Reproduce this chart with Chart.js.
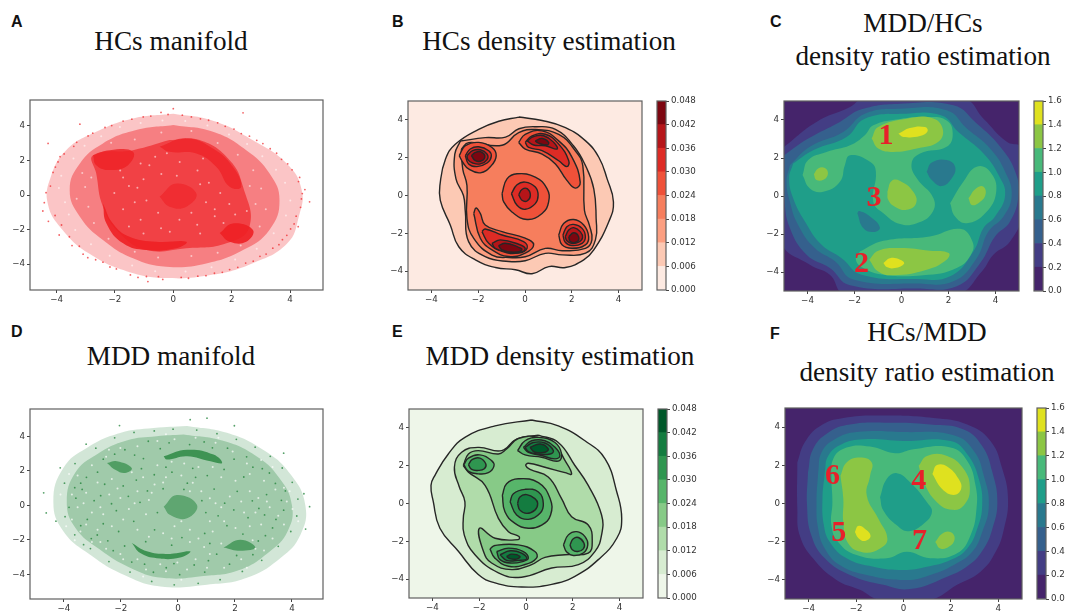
<!DOCTYPE html>
<html>
<head>
<meta charset="utf-8">
<title>Manifold density panels</title>
<script src="https://cdn.jsdelivr.net/npm/chart.js@4"></script>
<style>
  html, body { margin: 0; padding: 0; background: #fff; }
  body { position: relative; width: 1065px; height: 611px; overflow: hidden; }
  canvas { position: absolute; filter: blur(0.4px); }
  .title { position: absolute; transform: translateX(-50%); white-space: nowrap; font: 27.2px/32px "Liberation Serif", serif; color: #111; }
  .tag { position: absolute; font: bold 16px/18px "Liberation Sans", sans-serif; color: #111; }
</style>
</head>
<body>
<div class="tag" style="left:11px;top:13px">A</div>
<div class="tag" style="left:392px;top:13px">B</div>
<div class="tag" style="left:770px;top:13px">C</div>
<div class="tag" style="left:11px;top:323px">D</div>
<div class="tag" style="left:392px;top:323px">E</div>
<div class="tag" style="left:770px;top:325px">F</div>
<div class="title" style="left:171px;top:25px">HCs manifold</div>
<div class="title" style="left:549px;top:25px">HCs density estimation</div>
<div class="title" style="left:923px;top:7px">MDD/HCs</div>
<div class="title" style="left:923px;top:40px">density ratio estimation</div>
<div class="title" style="left:171px;top:340px">MDD manifold</div>
<div class="title" style="left:560px;top:340px">MDD density estimation</div>
<div class="title" style="left:927px;top:316px">HCs/MDD</div>
<div class="title" style="left:927px;top:356px">density ratio estimation</div>

<script>
const axisTicks = [-4, -2, 0, 2, 4];
const densityTicks = [0, 0.006, 0.012, 0.018, 0.024, 0.03, 0.036, 0.042, 0.048];
const ratioTicks = [0, 0.2, 0.4, 0.6, 0.8, 1.0, 1.2, 1.4, 1.6];

const redColors = ['#fdeae2', '#fcc9b4', '#fc9f81', '#f67e5d', '#ef5139', '#dd2b25', '#b51519', '#7d0610'];
const greenColors = ['#eef6e9', '#d7ecd1', '#b0dcaa', '#87ca87', '#57b56a', '#2f9650', '#147c40', '#00582a'];
const viridisColors = ['#45246b', '#433d84', '#35608d', '#29798e', '#1f9e89', '#48b97a', '#8cc644', '#dfe11f'];

// A: the cloud is far too dense to list, so its body is kept as envelopes
// and the dots are only a hand read sample of the grain, not every point
const hcEnvelope = [[0,4.7],[1.36,4.3],[2.7,3.2],[3.9,1.8],[4.4,.3],[4.3,-1.25],[3.9,-2.8],[2.7,-3.95],[1.36,-4.6],[-.24,-4.8],[-1.6,-4.4],[-2.87,-3.4],[-3.8,-2],[-4.3,-.5],[-4.2,1.05],[-3.67,2.6],[-2.64,3.66],[-1.38,4.43]];
const hcBody = [[0,4.05],[1.36,3.66],[2.5,2.6],[3.3,1.25],[3.64,-.3],[3.3,-2],[2.39,-3.18],[1.13,-3.95],[-.24,-4.14],[-1.38,-3.66],[-2.41,-2.6],[-3.2,-1.25],[-3.55,.3],[-3.2,1.83],[-2.41,2.99],[-1.27,3.76]];
const hcCore = [[-.13,3.18],[.9,3.18],[1.93,2.02],[2.39,.48],[2.61,-1.83],[1.82,-2.79],[.45,-3.08],[-.92,-3.18],[-1.84,-2.2],[-2.41,-.67],[-2.64,1.25],[-2.75,2.31],[-1.38,2.6]];
const hcBlobTL = [[-2.75,2.31],[-2.18,2.6],[-1.38,2.5],[-1.55,1.73],[-2.18,1.45],[-2.64,1.73]];
const hcArcTop = [[-.47,2.79],[.45,3.28],[1.36,2.7],[2.04,1.64],[2.33,.48],[1.93,.48],[1.47,1.64],[.79,2.41],[-.13,2.5]];
const hcArcBottom = [[-2.41,-.48],[-2.07,-1.64],[-1.5,-2.41],[-.58,-2.7],[.45,-2.7],[.1,-3.08],[-.92,-3.18],[-1.72,-2.79],[-2.29,-1.64]];
const hcBlobBR = [[1.59,-2.2],[2.04,-1.64],[2.73,-2.02],[2.5,-2.7],[1.93,-2.7]];
const hcBlobMid = [[-.47,-.1],[.1,.67],[.79,.1],[.45,-.67],[-.13,-.67]];
const hcPoints = [[-4.29,2.99],[-3.2,4.1],[2.39,4.76],[4.67,-.39],[-.87,-5],[0,5],[4.28,-1.83],[-4.42,-.44],[-4.12,1.31],[-3.95,1.92],[-4.21,.52],[-4.05,-1.18],[-3.83,-1.73],[-3.56,-2.41],[-3.22,-2.96],[-2.93,-3.62],[-2.41,-3.88],[-1.95,-4.27],[-1.47,-4.62],[-.92,-4.71],[-.36,-4.88],[.27,-4.76],[.84,-4.69],[1.41,-4.52],[1.93,-4.31],[2.48,-3.93],[2.97,-3.54],[3.41,-3.07],[3.74,-2.58],[4.02,-1.96],[4.21,-1.22],[4.36,-.71],[4.42,.09],[4.29,.78],[4.07,1.46],[3.71,2.07],[3.32,2.68],[2.86,3.17],[2.33,3.56],[1.78,3.98],[1.21,4.33],[.62,4.52],[-.18,4.66],[-.77,4.57],[-1.42,4.39],[-2.11,4.02],[-2.76,3.58],[-3.31,3.05],[-3.74,2.38],[-4.36,.14],[-4.47,-.92],[-4.28,-1.52],[-3.91,-2.31],[-3.47,-2.92],[-3.09,-3.42],[-2.66,-3.74],[-2.17,-4.16],[-1.21,-4.76],[-.51,-4.72],[.52,-4.81],[1.12,-4.66],[1.68,-4.47],[2.21,-4.18],[2.74,-3.82],[3.18,-3.41],[3.62,-2.87],[3.89,-2.33],[4.14,-1.67],[4.39,-.22],[4.51,.32],[4.33,1.02],[3.92,1.81],[3.54,2.42],[3.07,2.98],[2.61,3.41],[2.08,3.82],[1.52,4.18],[.93,4.41],[.31,4.62],[-.42,4.78],[-1.03,4.52],[-1.72,4.28],[-2.34,3.91],[-2.92,3.42],[-3.41,2.82],[-3.88,2.22],[-4.04,1.62]];
const hcWhite = [[-3.92,.41],[-3.71,-.42],[-3.84,1.12],[-3.42,2.11],[-3.04,2.86],[-2.47,3.41],[-1.83,3.94],[-1.12,4.17],[-.37,4.32],[.41,4.28],[1.17,4.02],[1.91,3.51],[2.53,2.96],[3.05,2.24],[3.52,1.46],[3.83,.71],[4.01,-.31],[3.86,-1.18],[3.44,-2.21],[2.86,-3.11],[2.12,-3.72],[1.31,-4.17],[.42,-4.42],[-.62,-4.41],[-1.41,-4.08],[-2.18,-3.51],[-2.82,-2.84],[-3.36,-2.02],[-3.58,-1.12],[-3.31,-.21],[-3.02,.47],[-3.12,1.28],[-2.81,1.02],[-2.91,-.67],[-2.72,-1.62],[-2.22,-2.52],[-1.32,-3.28],[-.52,-3.61],[.62,-3.52],[1.52,-3.34],[2.31,-2.91],[2.96,-1.82],[3.17,-.82],[3.01,.38],[2.74,1.44],[2.21,2.33],[1.52,3.02],[.62,3.71],[-.41,3.62],[-1.32,3.21],[-2.13,3.03],[-1.72,1.02],[-1.23,.42],[-.82,1.72],[-.41,1.22],[.22,1.92],[.83,1.42],[1.22,.72],[1.61,.12],[1.92,-.52],[1.42,-1.22],[.82,-1.72],[.21,-1.42],[-.42,-1.92],[-1.12,-1.42],[-1.72,-.82],[-2.02,.12],[-1.52,.52],[-.92,-.32],[-1.02,.92],[-.62,2.22],[.12,1.12],[.92,.62],[1.12,-.42],[.62,-1.02],[-.52,-1.02],[-1.32,-.42],[-1.82,1.42],[-1.12,1.82],[-.22,2.42],[1.02,2.12],[1.42,-.82],[2.12,-1.12],[1.72,-1.62],[.92,-2.22],[-.12,-2.12],[-1.02,-2.22],[-1.52,-1.82],[2.62,.52],[2.82,-.52],[2.52,-.92]];

// D
const mddEnvelope = [[.32,4.6],[1.72,4.2],[3,3.2],[3.95,1.8],[4.47,0],[4.3,-1.7],[3.6,-3.05],[2.42,-4.2],[1.02,-4.6],[-.62,-4.7],[-1.9,-4.02],[-3.08,-2.86],[-4.02,-1.5],[-4.37,.21],[-4.02,2.16],[-3.2,3.32],[-2.03,4.19],[-.85,4.48]];
const mddBody = [[.2,4.1],[1.55,3.75],[2.7,2.9],[3.55,1.6],[4,0],[3.85,-1.5],[3.2,-2.7],[2.15,-3.75],[.9,-4.1],[-.55,-4.2],[-1.7,-3.6],[-2.75,-2.55],[-3.6,-1.3],[-3.9,.2],[-3.6,1.9],[-2.85,2.95],[-1.8,3.75],[-.75,4]];
const mddBlobTL = [[-2.49,2.45],[-2.14,2.55],[-1.62,2.16],[-1.85,1.87],[-2.2,2.06]];
const mddArcTop = [[-.5,2.84],[.32,3.22],[1.25,2.94],[1.55,2.45],[1.14,2.55],[.32,2.84],[-.39,2.65]];
const mddBlobMid = [[-.5,-.08],[-.04,.6],[.67,.02],[.32,-.75],[-.27,-.56]];
const mddArcBottom = [[-1.62,-2.19],[-1.09,-2.67],[-.39,-2.82],[.43,-2.67],[.08,-3.03],[-.74,-3.07],[-1.32,-2.77]];
const mddBlobBR = [[1.6,-2.45],[2.19,-2],[2.72,-2.45],[2.19,-2.64]];
const mddPoints = [[-4.71,.72],[-4.62,-.44],[-4.13,2.17],[-2.05,4.62],[1.02,5.05],[.43,4.96],[1.98,4.61],[4.62,-.08],[4.42,.67],[4.48,-1.38],[3.71,3.02],[-3.22,3.54],[-4.28,-.92],[-3.98,1.28],[-3.61,2.42],[-2.88,3.31],[-2.22,3.91],[-1.54,4.22],[-.83,4.31],[-.17,4.41],[.66,4.36],[1.37,4.15],[2.05,3.82],[2.71,3.37],[3.24,2.84],[3.66,2.16],[4.01,1.33],[4.21,.36],[4.17,-.62],[3.96,-1.52],[3.52,-2.38],[2.94,-3.19],[2.26,-3.83],[1.48,-4.31],[.71,-4.52],[-.13,-4.61],[-.92,-4.41],[-1.68,-3.87],[-2.42,-3.26],[-3.07,-2.51],[-3.62,-1.71],[-3.96,-.66],[-3.58,.41],[-3.21,1.62],[-2.62,2.67],[-1.86,3.22],[-1.04,3.71],[-.31,3.62],[.92,3.67],[1.74,3.31],[2.41,2.81],[2.96,2.12],[3.42,1.27],[3.63,.29],[3.44,-.82],[3.07,-1.76],[2.63,-2.86],[1.81,-3.41],[.94,-3.87],[.06,-4.02],[-.86,-3.88],[-1.62,-3.29],[-2.27,-2.63],[-2.83,-1.72],[-3.18,-.82],[-2.94,.27],[-2.57,1.22],[-1.46,1.46],[-.83,1.77],[-.21,1.92],[.62,1.62],[1.27,.94],[2.08,.81],[2.61,.26],[2.46,-.72],[1.72,-1.18],[.94,-1.63],[.14,-1.87],[-.82,-1.42],[-1.55,-.93],[-2.16,-.31],[-1.74,.52],[-1.07,.83],[.98,-.42],[1.64,.12],[-2.08,-1.52],[-2.46,-2.06],[-.41,-3.62],[.57,-3.46],[1.36,-2.83],[3.04,-.56],[3.11,.62],[-3.41,-1.18],[-3.62,1.02],[-2.22,2.96],[1.21,3.33],[-1.21,2.71],[2.31,1.64],[1.62,2.08],[.33,1.28],[-.52,.96],[-3.82,-.12],[-3.36,.92],[-2.71,.56],[-2.33,.09],[-1.92,1.12],[-1.33,.17],[-.72,-.42],[.21,.92],[.84,.27],[1.41,-.61],[1.96,-.27],[2.84,-.18],[3.32,-1.31],[2.28,-1.67],[1.12,-2.21],[-.22,-2.31],[-1.13,-2.11],[-1.87,-2.36],[-2.62,-1.07],[-3.04,-1.93],[-3.31,-2.28],[-1.17,-3.41],[-.14,-3.38],[1.07,-3.21],[2.06,-2.91],[2.82,-2.07],[3.71,-.28],[3.77,.83],[3.21,1.87],[2.63,2.21],[1.97,2.67],[.41,3.52],[-.62,3.28],[-1.52,2.91],[-2.82,1.92],[-3.41,1.28],[-.42,2.21],[.52,2.14],[1.03,1.72],[-1.28,2.12]];
const mddWhite = [[-3.72,.62],[-3.31,.12],[-3.02,-.42],[-2.72,-.12],[-2.41,.62],[-2.12,.97],[-1.72,-.22],[-1.42,.82],[-1.02,.31],[-.82,1.21],[-.42,1.62],[.12,1.72],[.52,1.31],[.82,.82],[1.12,.41],[1.52,-.12],[1.82,.51],[2.22,.22],[2.52,.82],[2.82,.42],[3.22,-.11],[3.52,-.61],[3.82,.22],[3.42,.91],[3.02,1.42],[2.52,1.82],[2.02,1.42],[1.52,1.62],[1.22,2.22],[.72,2.22],[.22,2.42],[-.22,2.52],[-.72,2.32],[-1.22,1.62],[-1.62,1.92],[-2.32,1.52],[-2.82,1.32],[-3.22,.72],[-3.52,1.72],[-3.02,2.32],[-2.52,2.82],[-2.02,3.32],[-1.42,3.42],[-.72,3.72],[-.12,3.82],[.62,3.92],[1.32,3.62],[1.92,3.12],[2.42,2.42],[2.92,2.62],[3.32,2.22],[3.72,1.02],[4.02,-.22],[3.72,-1.12],[3.32,-1.92],[2.72,-2.52],[2.22,-3.12],[1.62,-3.62],[1.02,-3.62],[.32,-3.72],[-.42,-3.82],[-1.12,-3.72],[-1.92,-3.12],[-2.52,-2.52],[-3.02,-2.12],[-3.42,-1.52],[-3.72,-.82],[-3.22,-1.12],[-2.82,-1.42],[-2.32,-1.22],[-1.92,-.82],[-1.42,-1.42],[-1.02,-1.82],[-.52,-1.62],[-.12,-1.22],[.42,-1.42],[.72,-1.92],[1.22,-1.52],[1.62,-.92],[2.02,-1.32],[2.52,-1.22],[2.92,-1.12],[2.62,-2.02],[1.52,-2.22],[.92,-2.42],[.42,-2.12],[-.22,-1.92],[1.12,-2.82],[.62,-3.12],[-.02,-3.32],[-.62,-3.42],[-1.42,-3.12],[-2.02,-2.82],[-2.72,-2.12],[-1.52,.12],[-2.02,.42],[-2.62,-.52],[-3.52,-.12],[.12,-.92],[1.12,-.92],[1.32,.12],[2.32,-.42],[2.72,-.42],[3.12,.22],[-1.12,-.52],[-.92,.72],[-.52,1.32],[.42,.82],[-3.92,-1.22],[-3.62,-2.02],[-2.42,3.22],[3.02,-2.62],[2.42,-3.62],[.12,-4.32],[-1.22,-4.12],[1.42,3.92],[-.42,4.12],[-3.82,1.82],[-4.12,.62],[4.22,-.92],[3.92,.82]];

// B
const hcLevel1 = [[-.26,4.15],[.73,3.97],[1.73,3.59],[2.59,2.89],[3.16,2.01],[3.51,.88],[3.78,-.34],[3.58,-1.39],[2.94,-2.88],[2.51,-3.41],[1.73,-3.81],[1.02,-3.76],[.3,-4.14],[-.41,-3.93],[-1.26,-3.81],[-2.12,-3.41],[-2.83,-2.71],[-3.19,-1.57],[-3.62,-.26],[-3.62,.7],[-3.4,1.92],[-2.98,2.71],[-1.98,3.5],[-1.12,3.93]];
const hcLevel2 = [[-2.76,2.88],[-1.7,3.06],[-.83,3.09],[-.26,3.53],[.45,3.64],[1.3,3.5],[2.08,2.62],[2.59,1.57],[2.94,.35],[3.04,-1.22],[3.01,-2.35],[2.59,-3.05],[1.59,-3.14],[.87,-3.06],[.01,-3.45],[-.69,-3.49],[-1.7,-3.24],[-2.41,-2.44],[-2.55,-.87],[-2.63,0],[-2.95,.88],[-3,2.19]];
const hcLevel3 = [[-2.72,2.45],[-2.41,2.8],[-.98,2.66],[-.27,3.33],[.45,3.49],[1.44,3.23],[2.15,2.37],[2.47,1.58],[2.54,-.78],[2.75,-1.57],[2.86,-2.35],[2.58,-2.8],[1.59,-2.92],[.87,-2.8],[.01,-3.24],[-.69,-3.28],[-1.41,-3.15],[-2.19,-2.27],[-2.48,-1.22],[-2.48,.52],[-2.66,1.4]];
const hc4a = [[-2.81,2.11],[-2.55,2.63],[-1.98,2.81],[-1.41,2.54],[-1.23,2.11],[-1.44,1.58],[-1.91,1.2],[-2.41,1.41],[-2.66,1.76]];
const hc4b = [[-.27,2.81],[.01,3.24],[.73,3.42],[1.44,2.89],[2.01,2.02],[2.36,.71],[2.15,.39],[1.79,.8],[1.3,1.67],[.73,2.19],[.01,2.46]];
const hc4c = [[-.98,.1],[-.77,.88],[-.34,1.15],[.44,.97],[.94,.36],[1.01,-.34],[.73,-.95],[.09,-1.27],[-.56,-.87],[-.91,-.34]];
const hc4d = [[1.44,-2.09],[1.65,-1.48],[2.08,-1.27],[2.51,-1.56],[2.72,-2.18],[2.58,-2.61],[2.01,-2.79],[1.58,-2.61]];
const hc4e = [[-2.19,-.95],[-2.09,-.66],[-1.91,-.95],[-1.7,-1.56],[-.98,-1.91],[.01,-2.26],[.37,-2.61],[.01,-3.05],[-.7,-3.23],[-1.41,-2.88],[-1.91,-2.26]];
const hc5a = [[-2.55,2.11],[-2.34,2.46],[-1.98,2.58],[-1.55,2.37],[-1.44,2.07],[-1.62,1.72],[-2.05,1.53],[-2.41,1.67]];
const hc5b = [[.01,2.81],[.3,3.16],[.87,3.24],[1.44,2.72],[1.87,1.84],[1.79,1.53],[1.44,1.84],[.73,2.37],[.16,2.54]];
const hc5c = [[-.58,.1],[-.34,.57],[.01,.71],[.44,.45],[.56,.01],[.44,-.43],[.01,-.73],[-.34,-.52]];
const hc5d = [[1.62,-2.09],[1.79,-1.65],[2.08,-1.53],[2.44,-1.74],[2.58,-2.18],[2.44,-2.53],[2.01,-2.65],[1.72,-2.47]];
const hc5e = [[-1.84,-1.91],[-1.7,-1.77],[-.98,-2.09],[-.06,-2.44],[.09,-2.79],[-.27,-3.05],[-.98,-2.96],[-1.55,-2.53]];
const hc6a = [[-2.48,2.11],[-2.24,2.37],[-1.91,2.42],[-1.62,2.19],[-1.62,1.9],[-1.91,1.67],[-2.24,1.72],[-2.44,1.9]];
const hc6b = [[.09,2.89],[.37,3.12],[.8,3.16],[1.23,2.81],[1.37,2.46],[.87,2.63],[.37,2.67]];
const hc6c = [[-.27,.04],[-.13,.32],[.09,.36],[.23,.01],[.09,-.29],[-.13,-.25]];
const hc6d = [[1.72,-2.18],[1.87,-1.83],[2.08,-1.7],[2.36,-1.91],[2.46,-2.23],[2.29,-2.47],[2.01,-2.54],[1.79,-2.4]];
const hc6e = [[-1.41,-2.53],[-1.05,-2.35],[-.27,-2.58],[.01,-2.82],[-.27,-3.02],[-.84,-2.96],[-1.27,-2.79]];
const hc7a = [[-2.29,2.11],[-2.12,2.28],[-1.91,2.32],[-1.72,2.11],[-1.84,1.84],[-2.12,1.84]];
const hc7b = [[.44,2.89],[.73,3.02],[1.01,2.81],[.94,2.67],[.58,2.77]];
const hc7d = [[1.87,-2.18],[2.08,-1.97],[2.29,-2.18],[2.22,-2.44],[1.94,-2.44]];
const hc7e = [[-1.13,-2.65],[-.84,-2.53],[-.34,-2.7],[-.13,-2.88],[-.48,-3],[-.98,-2.88]];

// E
const mddLevel1 = [[.24,4.42],[1.38,4.11],[2.52,3.32],[3.38,2.36],[3.88,.61],[4.09,-.79],[3.88,-1.84],[3.09,-2.97],[2.09,-3.85],[1.1,-4.28],[-.19,-4.42],[-1.32,-4.2],[-2.04,-3.76],[-2.89,-2.53],[-3.68,-1.31],[-3.96,.09],[-4.06,.96],[-3.89,1.49],[-3.32,2.62],[-2.61,3.5],[-1.32,4.11]];
const mddLevel2 = [[.53,3.62],[1.38,3.23],[2.09,2.01],[2.66,.96],[3.23,-.61],[3.23,-1.66],[2.95,-2.53],[2.24,-3.23],[1.1,-3.41],[-.19,-3.9],[-1.18,-3.67],[-2.18,-2.71],[-2.64,-1.66],[-2.68,-.79],[-2.61,.09],[-2.86,.91],[-3.06,1.92],[-2.75,2.71],[-2.04,2.97],[-1.04,2.8],[-.4,3.41]];
const mddLevel3 = [[-2.68,2.01],[-2.46,2.62],[-2.04,2.8],[-1.18,2.62],[-.83,2.88],[-.33,3.44],[.53,3.5],[1.24,3.06],[1.67,2.27],[1.95,1.57],[1.67,1.63],[.81,1.92],[.1,2.13],[-.01,2.01],[.17,1.8],[.95,1.4],[1.52,.26],[1.95,-.7],[2.66,-1.14],[2.83,-2.01],[2.66,-2.62],[1.67,-2.71],[.81,-2.85],[.24,-3.23],[-.61,-3.5],[-1.47,-3.15],[-1.82,-2.53],[-1.99,-1.31],[-1.32,-1.84],[-.33,-1.91],[-.3,-1.75],[-.75,-1.49],[-1.18,-.79],[-1.75,.96],[-2.46,1.66]];
const mdd4a = [[-2.66,2.05],[-2.46,2.4],[-1.97,2.57],[-1.47,2.27],[-1.37,1.98],[-1.61,1.63],[-2.04,1.57],[-2.46,1.7]];
const mdd4b = [[-.36,2.8],[-.04,3.32],[.53,3.5],[1.24,3.23],[1.52,2.62],[1.38,2.24],[.67,2.45],[-.04,2.57]];
const mdd4c = [[-1.01,.44],[-.83,1.05],[-.33,1.31],[.53,1.1],[1.03,.26],[1.05,-.61],[.67,-1.14],[.1,-1.31],[-.47,-1.05],[-.9,-.44]];
const mdd4d = [[1.6,-2.19],[1.81,-1.66],[2.17,-1.49],[2.52,-1.75],[2.64,-2.19],[2.45,-2.62],[2.02,-2.75],[1.74,-2.57]];
const mdd4e = [[-1.54,-2.4],[-1.33,-2.22],[-.33,-2.19],[.38,-2.54],[.45,-2.89],[-.04,-3.23],[-.75,-3.32],[-1.33,-2.89]];
const mdd5a = [[-2.46,2.05],[-2.29,2.33],[-1.97,2.4],[-1.72,2.1],[-1.78,1.84],[-2.04,1.75],[-2.32,1.8]];
const mdd5b = [[-.11,2.97],[.24,3.32],[.81,3.32],[1.24,2.97],[1.45,2.54],[1.24,2.36],[.67,2.54],[.1,2.71]];
const mdd5c = [[-.68,.09],[-.54,.52],[-.04,.75],[.53,.61],[.74,0],[.6,-.52],[.1,-.84],[-.4,-.61]];
const mdd5d = [[1.88,-2.19],[2.02,-1.87],[2.24,-1.8],[2.48,-2.1],[2.45,-2.4],[2.21,-2.54],[1.98,-2.45]];
const mdd5e = [[-1.25,-2.54],[-.75,-2.36],[-.11,-2.54],[.1,-2.89],[-.11,-3.06],[-.68,-3.15],[-1.11,-2.97]];
const mdd6b = [[-.04,2.97],[.31,3.23],[.81,3.2],[1.17,2.8],[1.03,2.62],[.46,2.62],[.1,2.75]];
const mdd6c = [[-.36,0],[-.26,.35],[.03,.47],[.38,.26],[.5,0],[.38,-.35],[.03,-.52],[-.26,-.35]];
const mdd6e = [[-1.11,-2.71],[-.68,-2.5],[-.19,-2.62],[.03,-2.92],[-.33,-3.01],[-.83,-3.01]];
const mdd7b = [[.17,2.97],[.6,3.15],[.95,2.89],[.81,2.71],[.38,2.71]];
const mdd7e = [[-.83,-2.8],[-.61,-2.68],[-.26,-2.8],[-.4,-2.94],[-.68,-2.92]];

// C
const ratioC1 = [[-4.99,2.59],[-3.62,3.9],[-2.19,4.68],[-1.63,5.12],[2.63,5.12],[3.49,4.07],[4.48,2.85],[5.12,2.5],[5.12,-1],[4.62,-2.39],[3.91,-3.09],[3.42,-3.97],[2.35,-5.15],[-2.41,-5.15],[-3.05,-4.14],[-3.9,-3.62],[-5.11,-2.39],[-5.11,2.5]];
const ratioC2 = [[-4.99,2.15],[-3.97,3.02],[-2.62,3.9],[-1.7,4.56],[-.06,4.86],[2.21,4.77],[3.2,3.81],[4.2,2.59],[4.84,1.28],[4.98,.05],[4.62,-1.34],[3.98,-2.13],[3.35,-3.53],[2.35,-4.75],[.65,-4.87],[-2.19,-4.7],[-3.05,-3.79],[-4.04,-3.09],[-4.75,-1.69],[-4.99,-.12],[-4.99,.93]];
const ratioC3 = [[-4.75,1.62],[-3.9,2.59],[-2.48,3.37],[-1.56,4.33],[-.06,4.59],[1.92,4.51],[2.78,3.55],[3.77,2.5],[4.41,1.28],[4.69,.05],[4.34,-1.08],[3.7,-1.87],[3.2,-3.27],[2.21,-4.49],[.65,-4.61],[-2.05,-4.4],[-2.83,-3.44],[-3.69,-2.74],[-4.4,-1.52],[-4.75,-.3],[-4.89,.75]];
const ratioC4 = [[-4.61,1.71],[-3.76,2.41],[-2.34,3.11],[-1.56,4.07],[.08,4.33],[1.71,4.24],[2.42,3.37],[3.49,2.24],[4.13,1.1],[4.41,.05],[3.98,-1.08],[3.49,-1.69],[3.06,-2.92],[2.07,-4.23],[.65,-4.37],[-1.7,-4.14],[-2.55,-3.27],[-3.4,-2.57],[-4.11,-1.34],[-4.61,-.12],[-4.78,.93]];
const ratioC5a = [[-4.21,1.1],[-3.97,1.89],[-3.19,2.32],[-2.19,2.67],[-1.56,3.2],[-1.2,3.72],[-.21,4.03],[1.07,4.16],[1.92,3.98],[2.18,3.28],[1.92,2.59],[.79,2.24],[.43,1.71],[.65,.93],[1.36,-.12],[1.29,-.91],[.65,-1.43],[-.06,-1.48],[-.77,-.91],[-1.2,-.3],[-1.09,1.28],[-1.34,1.8],[-2.19,2.15],[-2.41,1.62],[-2.62,.75],[-3.33,.23],[-3.9,.4]];
const ratioC5b = [[2.07,-.38],[2.63,.75],[3.2,1.54],[3.77,1.28],[4.03,.23],[3.56,-.91],[2.78,-1.43],[2.28,-1.08]];
const ratioC5c = [[-1.77,-2.92],[-.77,-2.36],[1.21,-2.13],[2.49,-1.73],[2.99,-2.31],[2.99,-3],[2.35,-3.79],[.93,-4.17],[-.77,-4.14],[-1.63,-3.79],[-1.94,-3.35]];
const ratioCLowA = [[1.07,1.28],[1.29,1.76],[1.92,1.89],[2.28,1.54],[2.14,.93],[1.71,.52],[1.29,.84]];
const ratioCLowB = [[-1.88,-.91],[-1.8,-.79],[-1.34,-1.08],[-.92,-1.66],[-1.2,-1.9],[-1.63,-1.69]];
const ratioC6a = [[-1.27,3.02],[-.99,3.63],[.22,4.07],[1.29,4.1],[1.75,3.55],[1.57,2.85],[.65,2.5],[-.35,2.32],[-.99,2.5]];
const ratioC6b = [[-3.73,1.14],[-3.55,1.45],[-3.26,1.48],[-3.13,1.19],[-3.3,.87],[-3.62,.84]];
const ratioC6c = [[-.6,.23],[-.42,.79],[-.06,.79],[.5,.23],[.62,-.38],[.22,-.73],[-.28,-.56],[-.56,-.21]];
const ratioC6d = [[2.85,-.12],[3.17,.4],[3.49,.49],[3.57,.05],[3.27,-.38],[2.99,-.47]];
const ratioC6e = [[-1.37,-3.35],[-.99,-2.88],[-.06,-2.74],[1.21,-2.88],[2.01,-3],[1.92,-3.35],[1.07,-3.88],[-.35,-4.17],[-.99,-3.97]];
const ratioC7a = [[-.13,3.28],[.36,3.58],[1,3.63],[1.11,3.41],[.79,3.16],[.08,3.11]];
const ratioC7b = [[-.77,-3.53],[-.49,-3.27],[-.06,-3.35],[.11,-3.56],[-.28,-3.79],[-.63,-3.74]];
const digitsC = ['1', '3', '2'];
const digitsCX = [-.66, -1.17, -1.7];
const digitsCY = [3.16, -.12, -3.58];

// F
const ratioF1 = [[-4.48,2.15],[-4.17,3.19],[-3.53,4.05],[-2.54,4.48],[-.85,4.61],[1.27,4.48],[2.69,4.14],[3.67,3.27],[4.17,1.8],[4.41,.24],[4.24,-1.32],[3.89,-2.53],[3.25,-3.57],[2.26,-4.26],[1.13,-5.04],[-.99,-5.04],[-1.84,-4.52],[-2.83,-4],[-3.82,-2.87],[-4.38,-1.66],[-4.48,-.28]];
const ratioF2 = [[-4.03,1.63],[-3.82,2.84],[-3.18,3.71],[-2.26,4.14],[-.57,4.23],[1.13,4.14],[2.54,3.88],[3.32,3.01],[3.75,1.63],[3.96,.07],[3.75,-1.32],[3.39,-2.35],[2.76,-3.22],[1.84,-3.83],[.28,-4.48],[-.85,-4.26],[-2.26,-3.74],[-3.32,-2.87],[-3.89,-1.66],[-4.07,-.1]];
const ratioF3 = [[-3.6,1.63],[-3.46,2.67],[-2.9,3.36],[-1.98,3.74],[0,3.74],[2.12,3.57],[2.97,2.75],[3.39,1.45],[3.6,-.1],[3.32,-1.49],[2.9,-2.53],[2.12,-3.22],[1.13,-3.74],[.14,-4],[-1.55,-3.74],[-2.69,-3.22],[-3.32,-2.35],[-3.6,-1.32],[-3.67,.07]];
const ratioF4 = [[-3.32,1.63],[-3.18,2.49],[-2.61,3.1],[-1.7,3.36],[0,3.27],[1.98,3.27],[2.69,2.58],[3.18,1.28],[3.32,-.1],[3.11,-1.32],[2.69,-2.35],[1.98,-2.96],[.99,-3.31],[0,-3.48],[-1.27,-3.31],[-2.4,-2.87],[-3.11,-2.01],[-3.36,-1.14],[-3.42,.24]];
const ratioF5 = [[-3.04,1.11],[-2.97,2.32],[-2.4,2.93],[-1.41,2.98],[-.35,2.63],[.42,2.84],[1.98,2.93],[2.69,2.23],[3.04,.94],[3.08,-.28],[2.83,-1.66],[2.26,-2.61],[1.13,-2.87],[.14,-2.53],[-.71,-2.87],[-1.98,-2.7],[-2.76,-2.01],[-3.04,-1.14],[-3,.07]];
const ratioFLow = [[-.99,.33],[-.71,1.28],[-.28,1.59],[.28,1.11],[.99,.07],[1.2,-.45],[.85,-1.06],[.21,-1.45],[-.28,-1.14],[-.85,-.36]];
const ratioF6a = [[-2.66,1.45],[-2.4,2.15],[-1.84,2.41],[-1.34,2.15],[-1.41,1.45],[-1.55,.42],[-1.06,-.8],[-.68,-1.84],[-.99,-2.35],[-1.7,-2.56],[-2.33,-2.1],[-2.54,-.97],[-2.54,.24]];
const ratioF6b = [[.64,1.97],[.99,2.49],[1.84,2.49],[2.54,1.8],[2.8,.76],[2.54,-.1],[2.05,-.33],[1.41,.07],[.85,1.11]];
const ratioF6c = [[1.34,-2.01],[1.63,-1.58],[1.98,-1.49],[2.16,-1.84],[1.91,-2.27],[1.55,-2.35]];
const ratioF7a = [[1.22,1.54],[1.41,2.01],[1.84,1.94],[2.33,1.28],[2.43,.76],[2.12,.45],[1.63,.76]];
const ratioF7b = [[-2.05,-1.49],[-1.91,-1.18],[-1.63,-1.32],[-1.39,-1.7],[-1.63,-1.96],[-1.91,-1.8]];
const digitsF = ['6', '4', '5', '7'];
const digitsFX = [-3, .64, -2.73, .68];
const digitsFY = [1.45, 1.16, -1.54, -1.97];

const tickFont = { family: '"DejaVu Sans"', size: 8.7 };
const margin = { left: 34, right: 12, top: 12, bottom: 20 };
const barMargin = { left: 4, right: 36, top: 12, bottom: 12 };

// background, box outline and the red numerals
const framePlugin = {
  id: 'frame',
  beforeDatasetsDraw(chart) {
    const bg = chart.options.plugins.frame.background;
    if (!bg) return;
    const a = chart.chartArea;
    chart.ctx.save();
    chart.ctx.fillStyle = bg;
    chart.ctx.fillRect(a.left, a.top, a.right - a.left, a.bottom - a.top);
    chart.ctx.restore();
  },
  afterDraw(chart) {
    const a = chart.chartArea;
    const ctx = chart.ctx;
    ctx.save();
    ctx.strokeStyle = '#5f5f5f';
    ctx.lineWidth = 1.2;
    ctx.strokeRect(a.left, a.top, a.right - a.left, a.bottom - a.top);
    const d = chart.options.plugins.frame.digits;
    if (d) {
      ctx.fillStyle = '#e8202a';
      ctx.font = 'bold 30px "Liberation Serif"';
      ctx.textAlign = 'center';
      ctx.textBaseline = 'middle';
      d.text.forEach((t, i) => {
        ctx.fillText(t, chart.scales.x.getPixelForValue(d.x[i]), chart.scales.y.getPixelForValue(d.y[i]));
      });
    }
    ctx.restore();
  }
};

function addCanvas(box, m) {
  const c = document.createElement('canvas');
  c.width = box.right - box.left + m.left + m.right;
  c.height = box.bottom - box.top + m.top + m.bottom;
  c.style.left = (box.left - m.left) + 'px';
  c.style.top = (box.top - m.top) + 'px';
  document.body.appendChild(c);
  return c;
}

function axis(range, ticks, size, prop, position) {
  return {
    type: 'linear',
    position: position,
    min: range[0],
    max: range[1],
    border: { display: false },
    grid: { drawOnChartArea: false, tickLength: 3, tickColor: '#444', tickWidth: 1 },
    ticks: {
      font: tickFont,
      color: '#333',
      padding: 2,
      autoSkip: false,
      maxRotation: 0,
      callback: v => String(v).replace('-', '\u2212')
    },
    afterBuildTicks: s => { s.ticks = ticks.map(v => ({ value: v })); },
    afterFit: s => { s[prop] = size; }
  };
}

// one closed contour: filled and optionally outlined
function contour(pts, color, outline) {
  const closed = pts.concat([pts[0]]).map(p => ({ x: p[0], y: p[1] }));
  return {
    data: closed,
    fill: 'shape',
    backgroundColor: color,
    borderColor: outline || 'rgba(0,0,0,0)',
    borderWidth: outline ? 1.4 : 0,
    pointRadius: 0,
    tension: 0.45,
    capBezierPoints: false
  };
}

function makePanel(box, xRange, yRange, layers, digits, background) {
  layers.forEach((d, i) => { d.order = layers.length - i; });
  new Chart(addCanvas(box, margin), {
    type: 'line',
    data: { datasets: layers },
    options: {
      responsive: false,
      animation: false,
      events: [],
      layout: { padding: { left: 2, right: margin.right, top: margin.top, bottom: 1 } },
      plugins: { legend: { display: false }, tooltip: { enabled: false }, frame: { digits: digits, background: background } },
      scales: {
        x: axis(xRange, axisTicks, margin.bottom - 1, 'height', 'bottom'),
        y: axis(yRange, axisTicks, margin.left - 2, 'width', 'left')
      }
    },
    plugins: [framePlugin]
  });
}

function makeColorbar(box, ticks, colors, digits) {
  const ds = colors.map((col, i) => ({
    data: [[ticks[i], ticks[i + 1]]],
    backgroundColor: col,
    barPercentage: 1,
    categoryPercentage: 1
  }));
  const y = axis([ticks[0], ticks[ticks.length - 1]], ticks, barMargin.right - 2, 'width', 'right');
  y.ticks.callback = v => v.toFixed(digits);
  new Chart(addCanvas(box, barMargin), {
    type: 'bar',
    data: { labels: [''], datasets: ds },
    options: {
      responsive: false,
      animation: false,
      events: [],
      layout: { padding: { left: barMargin.left, right: 2, top: barMargin.top, bottom: barMargin.bottom } },
      plugins: { legend: { display: false }, tooltip: { enabled: false }, frame: {} },
      scales: { x: { display: false, stacked: true }, y: y }
    },
    plugins: [framePlugin]
  });
}

function cloudDots(pts, color, size) {
  return {
    data: pts.map(p => ({ x: p[0], y: p[1] })),
    showLine: false,
    pointRadius: size,
    pointBorderWidth: 0,
    pointBackgroundColor: color
  };
}

const contourInk = '#262626';
const R = redColors, G = greenColors, V = viridisColors;
const span5 = [-5, 5];

// A
const red = a => `rgba(238,32,36,${a})`;
makePanel({ left: 30, top: 100, right: 323, bottom: 290 }, [-4.91, 5.13], [-5.49, 5.5], [
  contour(hcEnvelope, red(.26)), contour(hcBody, red(.42)), contour(hcCore, red(.65)),
  contour(hcBlobTL, red(.8)), contour(hcArcTop, red(.7)), contour(hcArcBottom, red(.9)),
  contour(hcBlobBR, red(.9)), contour(hcBlobMid, red(.6)),
  cloudDots(hcPoints, red(.7), 0.9),
  cloudDots(hcWhite, 'rgba(255,255,255,.55)', 1)
]);

// B
makePanel({ left: 408, top: 101, right: 642, bottom: 290 }, span5, span5, [
  contour(hcLevel1, R[1], contourInk),
  contour(hcLevel2, R[2], contourInk),
  contour(hcLevel3, R[3], contourInk),
  ...[hc4a, hc4b, hc4c, hc4d, hc4e].map(p => contour(p, R[4], contourInk)),
  ...[hc5a, hc5b, hc5c, hc5d, hc5e].map(p => contour(p, R[5], contourInk)),
  ...[hc6a, hc6b, hc6c, hc6d, hc6e].map(p => contour(p, R[6], contourInk)),
  ...[hc7a, hc7b, hc7d, hc7e].map(p => contour(p, R[7], contourInk))
], null, R[0]);
makeColorbar({ left: 657, top: 101, right: 666, bottom: 290 }, densityTicks, redColors, 3);

// C
makePanel({ left: 784, top: 101, right: 1019, bottom: 291 }, span5, span5, [
  contour(ratioC1, V[1]),
  contour(ratioC2, V[2]),
  contour(ratioC3, V[3]),
  contour(ratioC4, V[4]),
  ...[ratioC5a, ratioC5b, ratioC5c].map(p => contour(p, V[5])),
  ...[ratioCLowA, ratioCLowB].map(p => contour(p, V[3])),
  ...[ratioC6a, ratioC6b, ratioC6c, ratioC6d, ratioC6e].map(p => contour(p, V[6])),
  ...[ratioC7a, ratioC7b].map(p => contour(p, V[7]))
], { text: digitsC, x: digitsCX, y: digitsCY }, V[0]);
makeColorbar({ left: 1034, top: 101, right: 1043, bottom: 291 }, ratioTicks, viridisColors, 1);

// D
const green = a => `rgba(30,130,55,${a})`;
makePanel({ left: 30, top: 409, right: 323, bottom: 599 }, [-5.19, 5.09], [-5.43, 5.58], [
  contour(mddEnvelope, green(.2)), contour(mddBody, green(.28)),
  contour(mddBlobTL, green(.6)), contour(mddArcTop, green(.75)), contour(mddBlobMid, green(.5)),
  contour(mddArcBottom, green(.75)), contour(mddBlobBR, green(.6)),
  cloudDots(mddPoints, green(.75), 0.9),
  cloudDots(mddWhite, 'rgba(255,255,255,.7)', 1)
]);

// E
makePanel({ left: 409, top: 409, right: 643, bottom: 598 }, span5, span5, [
  contour(mddLevel1, G[1], contourInk),
  contour(mddLevel2, G[2], contourInk),
  contour(mddLevel3, G[3], contourInk),
  ...[mdd4a, mdd4b, mdd4c, mdd4d, mdd4e].map(p => contour(p, G[4], contourInk)),
  ...[mdd5a, mdd5b, mdd5c, mdd5d, mdd5e].map(p => contour(p, G[5], contourInk)),
  ...[mdd6b, mdd6c, mdd6e].map(p => contour(p, G[6], contourInk)),
  ...[mdd7b, mdd7e].map(p => contour(p, G[7], contourInk))
], null, G[0]);
makeColorbar({ left: 658, top: 409, right: 667, bottom: 598 }, densityTicks, greenColors, 3);

// F
makePanel({ left: 785, top: 408, right: 1022, bottom: 599 }, span5, span5, [
  contour(ratioF1, V[1]),
  contour(ratioF2, V[2]),
  contour(ratioF3, V[3]),
  contour(ratioF4, V[4]),
  contour(ratioF5, V[5]),
  contour(ratioFLow, V[4]),
  ...[ratioF6a, ratioF6b, ratioF6c].map(p => contour(p, V[6])),
  ...[ratioF7a, ratioF7b].map(p => contour(p, V[7]))
], { text: digitsF, x: digitsFX, y: digitsFY }, V[0]);
makeColorbar({ left: 1037, top: 408, right: 1046, bottom: 599 }, ratioTicks, viridisColors, 1);
</script>
</body>
</html>
